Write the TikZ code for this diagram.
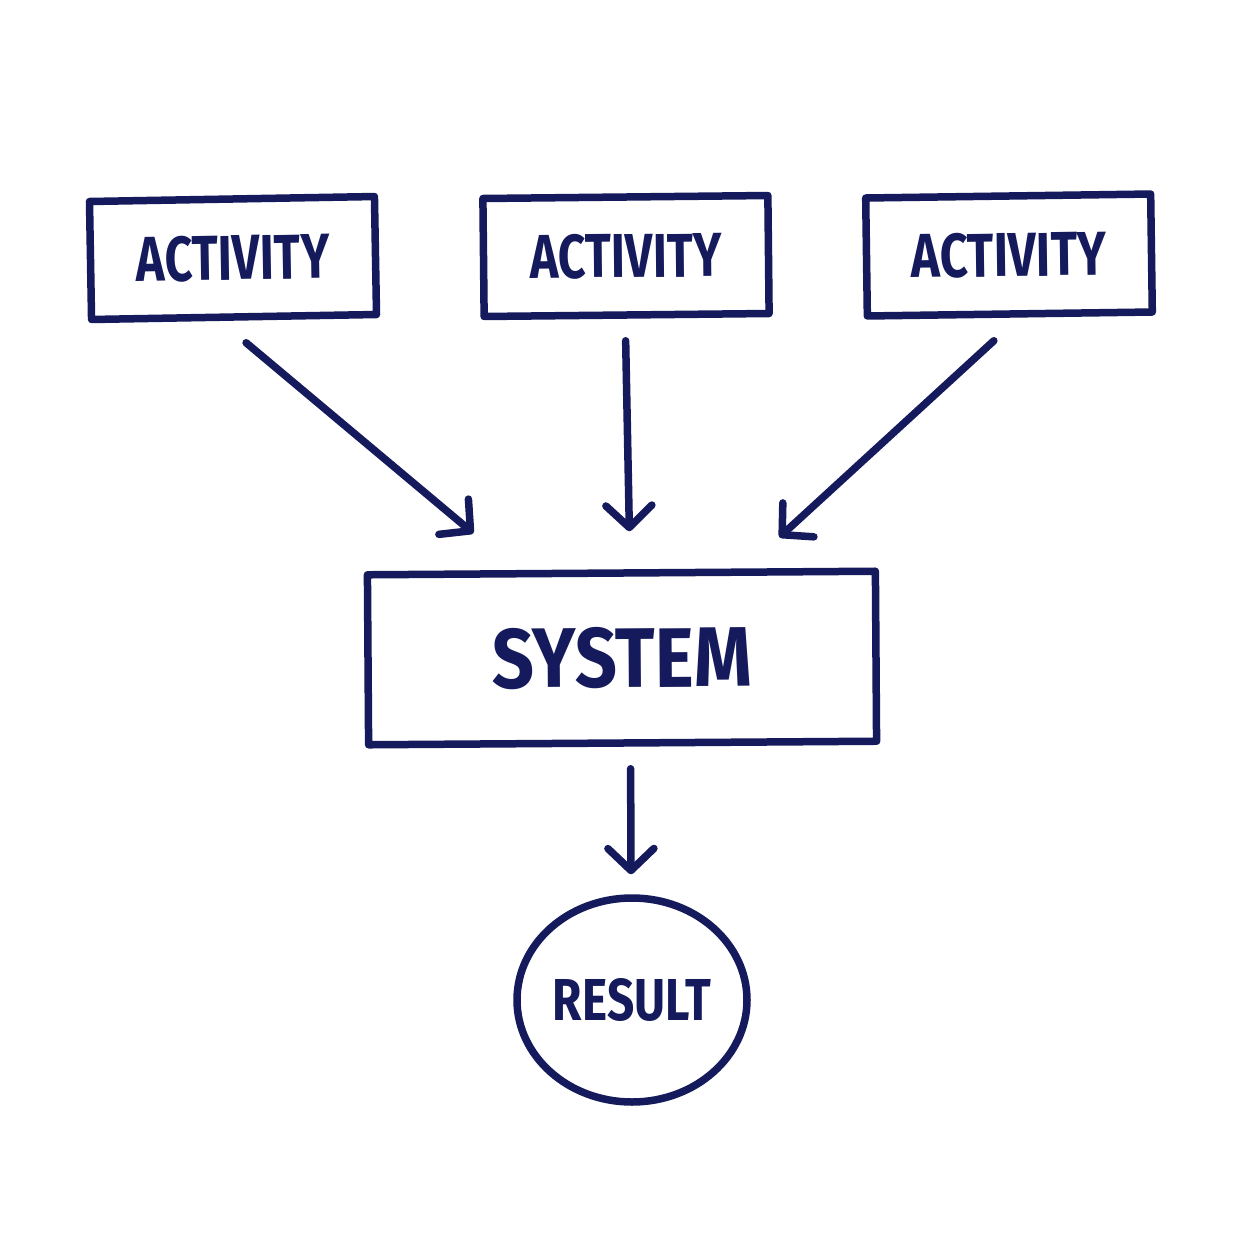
\documentclass[tikz,border=0pt]{standalone}
\usepackage{fontspec}
\usepackage{graphicx}
\setmainfont{Fira Sans}
\usetikzlibrary{arrows.meta,calc,shapes.geometric}
\definecolor{ink}{HTML}{141A5C}
\begin{document}
\begin{tikzpicture}[x=1pt,y=-1pt,
  ink/.style={draw=ink,line width=7.5pt,line cap=round,line join=round},
  actbox/.style={ink,rectangle,inner sep=0pt,minimum width=285pt,minimum height=118pt,text=ink},
  sysbox/.style={ink,rectangle,inner sep=0pt,minimum width=508pt,minimum height=170pt,text=ink},
  resnode/.style={ink,ellipse,inner sep=0pt,minimum width=230pt,minimum height=204pt,text=ink},
  arr/.style={ink,-{Straight Barb[length=22pt,width=46pt,line width=7.5pt,round]}}]
\useasboundingbox (0,0) rectangle (1254,1254);
\fill[white] (0,0) rectangle (1254,1254);
\node[actbox,rotate=1] (a1) at (233,258) {\resizebox{193pt}{45pt}{\bfseries ACTIVITY}};
\node[actbox,rotate=0.6] (a2) at (626,256) {\resizebox{192pt}{44pt}{\bfseries ACTIVITY}};
\node[actbox,rotate=0.8] (a3) at (1009,255) {\resizebox{195pt}{44pt}{\bfseries ACTIVITY}};
\node[sysbox,rotate=0.4] (sys) at (622,658) {\resizebox{260pt}{60pt}{\bfseries SYSTEM}};
\node[resnode] (res) at (632,1000) {\resizebox{158pt}{42pt}{\bfseries RESULT}};
\draw[arr] ($(a1.south)+(12,22)$) -- ($(sys.north)+(-148,-36)$);
\draw[arr] ($(a2.south)+(-1,22)$) -- ($(sys.north)+(8,-38)$);
\draw[arr] ($(a3.south)+(-16,23)$) -- ($(sys.north)+(158,-32)$);
\draw[arr] ($(sys.south)+(8,22)$) -- ($(res.north)+(-1,-20)$);
\end{tikzpicture}
\end{document}
